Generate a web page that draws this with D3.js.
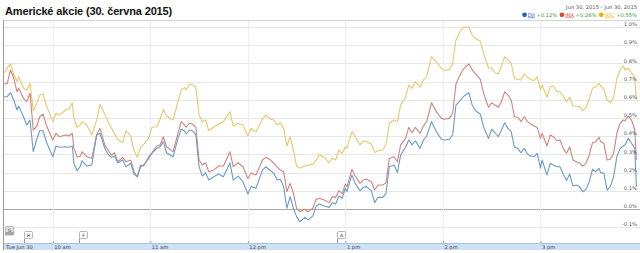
<!DOCTYPE html>
<html>
<head>
<meta charset="utf-8">
<script src="https://cdn.jsdelivr.net/npm/d3@7"></script>
<style>
body { margin: 0; background: #fff; }
svg { display: block; }
.small { font-family: "DejaVu Sans", sans-serif; font-size: 5.2px; fill: #555; }
.title { font-family: "Liberation Sans", Arial, sans-serif; font-weight: bold; font-size: 11px; fill: #111; }
</style>
</head>
<body>
<div id="chart"></div>
<script>
const width = 640
const height = 253

// texty
const title = "Americké akcie (30. června 2015)"
const dateRange = "Jun 30, 2015 - Jun 30, 2015"
const symbols = ["DJI", "INX", "IXIC"]
const changes = ["+0.12%", "+0.26%", "+0.55%"]
const dayLabel = "Tue Jun 30"
const hourTicks = [10, 11, 12, 13, 14, 15]
const hourLabels = ["10 am", "11 am", "12 pm", "1 pm", "2 pm", "3 pm"]
const yTicks = [-0.1, 0, 0.1, 0.2, 0.3, 0.4, 0.5, 0.6, 0.7, 0.8, 0.9, 1.0]
const flagLetters = ["G", "H", "F", "A"]
const flagMinutes = [0, 12, 46, 205]

// minuty od 9:30
const minutes = [
    0, 2, 4, 6, 8, 9, 12, 14, 16, 18, 20, 22, 24, 26, 30, 32, 34, 38, 40, 42,
    43, 45, 47, 48, 51, 54, 57, 59, 62, 64, 66, 68, 70, 73, 75, 78, 80, 82, 84, 86,
    89, 91, 94, 96,
    98, 100, 104, 107, 109, 111, 112, 114, 116, 118, 120, 122, 124, 126, 129, 132, 135, 139, 141, 144,
    147, 150, 152, 155, 159, 161, 164, 166, 168, 170, 172, 174, 176, 178, 180, 182, 185, 187, 190, 192,
    194,
    197, 200, 202, 204, 206, 208, 210, 211, 214, 216, 219, 221, 223, 226, 228, 230, 233, 235, 237, 240,
    242, 244, 247, 249, 251, 253, 256, 258, 260, 263, 266, 269, 271, 274, 276, 278, 281, 283, 286, 288,
    290, 293,
    295, 298, 300, 302, 304, 306, 308, 310, 312, 314, 316, 318, 320, 322, 324, 326, 328, 330, 331, 334,
    336, 338, 340, 342, 344, 346, 348, 350, 352, 354, 356, 358, 360, 362, 364, 366, 367, 369, 371, 373,
    375, 377, 379, 381, 382, 384, 386, 388, 389
]

const dji = [
    0.617, 0.617, 0.639, 0.599, 0.544, 0.566, 0.507, 0.462, 0.489, 0.315, 0.379, 0.43, 0.43, 0.37, 0.287, 0.346, 0.339, 0.342, 0.339, 0.346,
    0.251, 0.21, 0.236, 0.265, 0.236, 0.242, 0.407, 0.416, 0.333, 0.302, 0.284, 0.291, 0.254, 0.269, 0.232, 0.251, 0.192, 0.177, 0.232, 0.242,
    0.278, 0.306, 0.333, 0.342,
    0.37, 0.309, 0.287, 0.388, 0.438, 0.43, 0.412, 0.434, 0.43, 0.407, 0.232, 0.181, 0.2, 0.159, 0.177, 0.192, 0.177, 0.254, 0.159, 0.181,
    0.15, 0.082, 0.123, 0.114, 0.214, 0.232, 0.21, 0.196, 0.159, 0.163, 0.123, 0.004, 0.068, 0.004, -0.042, -0.07, -0.046, -0.06, -0.038, 0.016,
    0.027,
    0.016, 0.009, 0.035, 0.027, 0.071, 0.059, 0.114, 0.095, 0.187, 0.141, 0.1, 0.119, 0.123, 0.1, 0.035, 0.064, 0.064, 0.086, 0.232, 0.242,
    0.2, 0.297, 0.339, 0.379, 0.352, 0.375, 0.333, 0.379, 0.401, 0.48, 0.425, 0.383, 0.379, 0.383, 0.407, 0.571, 0.599, 0.621, 0.639, 0.571,
    0.54, 0.522,
    0.452, 0.388, 0.438, 0.419, 0.397, 0.434, 0.474, 0.443, 0.425, 0.339, 0.333, 0.309, 0.333, 0.302, 0.291, 0.287, 0.306, 0.224, 0.269, 0.187,
    0.251, 0.242, 0.232, 0.232, 0.192, 0.156, 0.192, 0.126, 0.132, 0.123, 0.095, 0.108, 0.15, 0.218, 0.205, 0.224, 0.2, 0.196, 0.104, 0.123,
    0.177, 0.287, 0.333, 0.346, 0.352, 0.388, 0.361, 0.333, 0.123
]

const inx = [
    0.687, 0.69, 0.764, 0.718, 0.644, 0.663, 0.608, 0.59, 0.636, 0.434, 0.452, 0.507, 0.522, 0.462, 0.379, 0.416, 0.397, 0.407, 0.401, 0.416,
    0.333, 0.284, 0.291, 0.315, 0.287, 0.278, 0.407, 0.443, 0.352, 0.324, 0.297, 0.309, 0.26, 0.284, 0.26, 0.269, 0.205, 0.177, 0.242, 0.236,
    0.287, 0.309, 0.346, 0.352,
    0.397, 0.342, 0.315, 0.416, 0.48, 0.462, 0.449, 0.471, 0.467, 0.449, 0.269, 0.242, 0.254, 0.205, 0.214, 0.236, 0.236, 0.315, 0.232, 0.254,
    0.232, 0.168, 0.196, 0.187, 0.269, 0.284, 0.269, 0.251, 0.232, 0.214, 0.205, 0.095, 0.141, 0.086, 0.004, -0.015, -0.002, -0.015, 0.004, 0.053,
    0.059,
    0.049, 0.035, 0.068, 0.064, 0.1, 0.086, 0.137, 0.123, 0.218, 0.181, 0.141, 0.159, 0.163, 0.15, 0.104, 0.132, 0.132, 0.145, 0.278, 0.287,
    0.26, 0.352, 0.388, 0.449, 0.419, 0.449, 0.416, 0.456, 0.48, 0.584, 0.535, 0.498, 0.493, 0.498, 0.526, 0.687, 0.746, 0.773, 0.797, 0.764,
    0.742, 0.712,
    0.636, 0.559, 0.584, 0.571, 0.559, 0.59, 0.644, 0.626, 0.599, 0.507, 0.504, 0.48, 0.507, 0.48, 0.467, 0.456, 0.449, 0.388, 0.416, 0.346,
    0.407, 0.397, 0.375, 0.379, 0.333, 0.306, 0.342, 0.269, 0.26, 0.254, 0.236, 0.251, 0.297, 0.364, 0.37, 0.394, 0.37, 0.361, 0.269, 0.273,
    0.306, 0.416, 0.471, 0.489, 0.485, 0.511, 0.489, 0.434, 0.27
]

const ixic = [
    0.746, 0.775, 0.797, 0.74, 0.70, 0.727, 0.663, 0.654, 0.69, 0.54, 0.575, 0.626, 0.632, 0.571, 0.48, 0.526, 0.516, 0.544, 0.553, 0.584,
    0.498, 0.449, 0.462, 0.48, 0.46, 0.407, 0.489, 0.575, 0.52, 0.48, 0.445, 0.415, 0.38, 0.365, 0.43, 0.40, 0.32, 0.284, 0.34, 0.357,
    0.388, 0.449, 0.452, 0.493,
    0.548, 0.511, 0.489, 0.59, 0.654, 0.667, 0.654, 0.685, 0.681, 0.672, 0.516, 0.48, 0.489, 0.43, 0.449, 0.467, 0.48, 0.535, 0.456, 0.471,
    0.462, 0.401, 0.443, 0.425, 0.493, 0.516, 0.493, 0.489, 0.462, 0.474, 0.443, 0.346, 0.397, 0.324, 0.236, 0.224, 0.236, 0.24, 0.245, 0.27,
    0.297,
    0.284, 0.254, 0.28, 0.269, 0.324, 0.306, 0.342, 0.333, 0.425, 0.397, 0.352, 0.375, 0.37, 0.357, 0.31, 0.32, 0.324, 0.352, 0.471, 0.489,
    0.48, 0.571, 0.614, 0.681, 0.663, 0.7, 0.669, 0.709, 0.727, 0.837, 0.809, 0.773, 0.76, 0.767, 0.8, 0.929, 0.984, 1.0, 1.0, 0.956,
    0.937, 0.922,
    0.855, 0.776, 0.774, 0.75, 0.74, 0.785, 0.837, 0.822, 0.8, 0.718, 0.712, 0.709, 0.742, 0.724, 0.712, 0.705, 0.727, 0.654, 0.681, 0.614,
    0.672, 0.676, 0.644, 0.644, 0.621, 0.59, 0.614, 0.566, 0.566, 0.562, 0.54, 0.559, 0.603, 0.663, 0.672, 0.69, 0.676, 0.658, 0.599, 0.584,
    0.614, 0.718, 0.764, 0.786, 0.764, 0.773, 0.749, 0.724, 0.6
]

const lineColors = ["#6b9bc9", "#cf857d", "#e8c86c"]
const dotColors = ["#1a63c2", "#d8482c", "#f2b10a"]

const open = new Date(2015, 5, 30, 9, 30)
const close = new Date(2015, 5, 30, 16, 0)

const svg = d3.select("div#chart")
    .append("svg")
    .attr("width", width)
    .attr("height", height)

const x = d3.scaleTime().domain([open, close]).range([4, 638])
const y = d3.scaleLinear().domain([0, 1]).range([209, 27])

const axisTop = 243

// titulek
svg.append("text").attr("class", "title")
    .attr("x", 5).attr("y", 15)
    .style("letter-spacing", "-0.15px")
    .text(title)

// ramecek
svg.append("line").attr("x1", 4).attr("x2", width).attr("y1", 20.5).attr("y2", 20.5)
    .attr("stroke", "#d4d4d4")
svg.append("line").attr("x1", 3.5).attr("x2", 3.5).attr("y1", 20).attr("y2", 250)
    .attr("stroke", "#9a9a9a")

// mrizka
const gridGroup = svg.append("g")
gridGroup.selectAll("line.h").data(yTicks)
    .join("line")
    .attr("class", "h")
    .attr("x1", 4).attr("x2", width)
    .attr("y1", d => Math.round(y(d)) + 0.5)
    .attr("y2", d => Math.round(y(d)) + 0.5)
    .attr("stroke", d => d === 0 ? "#a8a8a8" : "#e6e6e6")

const hourDates = hourTicks.map(h => new Date(2015, 5, 30, h, 0))
gridGroup.selectAll("line.v").data(hourDates)
    .join("line")
    .attr("class", "v")
    .attr("x1", d => Math.round(x(d)) + 0.5)
    .attr("x2", d => Math.round(x(d)) + 0.5)
    .attr("y1", 21).attr("y2", axisTop)
    .attr("stroke", "#eeeeee")

// linie
const dates = minutes.map(m => d3.timeMinute.offset(open, m))
const series = [ixic, inx, dji]
const seriesColors = [lineColors[2], lineColors[1], lineColors[0]]
const line = d3.line()
    .x((d, i) => x(dates[i]))
    .y(d => y(d))

svg.append("g").selectAll("path").data(series)
    .join("path")
    .attr("d", d => line(d))
    .attr("fill", "none")
    .attr("stroke", (d, i) => seriesColors[i])
    .attr("stroke-width", 1.1)
    .attr("stroke-linejoin", "round")

// popisky osy y
const yAxis = d3.axisLeft(y)
    .tickValues(yTicks)
    .tickSize(0)
    .tickPadding(0)
    .tickFormat(d => d.toFixed(1) + "%")
const yAxisGroup = svg.append("g")
    .attr("transform", `translate(637,0)`)
    .call(yAxis)
yAxisGroup.select(".domain").remove()
yAxisGroup.selectAll("text")
    .attr("class", "small")
    .attr("font-family", null).attr("font-size", null)
    .attr("dy", -1.3)

// pasek osy x
svg.append("rect")
    .attr("x", 4).attr("y", axisTop)
    .attr("width", width - 4).attr("height", 7)
    .attr("fill", "#cde0f4")
svg.append("line").attr("x1", 4).attr("x2", width).attr("y1", axisTop + 0.5).attr("y2", axisTop + 0.5)
    .attr("stroke", "#a9c3df")

const xAxis = d3.axisBottom(x)
    .tickValues(hourDates)
    .tickSizeInner(-2)
    .tickSizeOuter(0)
    .tickPadding(2)
    .tickFormat((d, i) => hourLabels[i])
const xAxisGroup = svg.append("g")
    .attr("transform", `translate(0,${axisTop})`)
    .call(xAxis)
xAxisGroup.select(".domain").remove()
xAxisGroup.selectAll("line").attr("stroke", "#8aa4c0")
xAxisGroup.selectAll("text")
    .attr("class", "small")
    .attr("font-family", null).attr("font-size", null)
    .attr("text-anchor", "start")
    .attr("dx", 1)
    .style("fill", "#444")

svg.append("text").attr("class", "small")
    .attr("x", 6).attr("y", 248.6)
    .style("fill", "#444")
    .text(dayLabel)

// vlajky
const flags = svg.append("g").selectAll("g").data(flagLetters)
    .join("g")
    .attr("transform", (d, i) => {
        const fx = Math.round(x(d3.timeMinute.offset(open, flagMinutes[i]))) + 0.5
        return i === 0 ? `translate(${fx + 1},226.5)` : `translate(${fx},231.5)`
    })
flags.append("line")
    .attr("x1", 0).attr("x2", 0)
    .attr("y1", 7).attr("y2", (d, i) => i === 0 ? 9 : axisTop - 231.5)
    .attr("stroke", "#999")
flags.append("rect")
    .attr("width", 8).attr("height", (d, i) => i === 0 ? 8.5 : 7)
    .attr("rx", 1)
    .attr("fill", (d, i) => i === 0 ? "#e4e4e4" : "#fff")
    .attr("stroke", "#9a9a9a")
    .attr("stroke-width", 0.7)
flags.filter((d, i) => i === 0).append("rect")
    .attr("y", 5.5).attr("width", 8).attr("height", 3)
    .attr("fill", "#a6a6a6")
flags.append("text")
    .attr("class", "small")
    .attr("x", 4).attr("y", 5.2)
    .attr("text-anchor", "middle")
    .style("font-size", "4.6px")
    .style("fill", "#333")
    .text(d => d)

// legenda
svg.append("text").attr("class", "small")
    .attr("x", 637).attr("y", 8.5)
    .attr("text-anchor", "end")
    .text(dateRange)

const legend = svg.append("g")
let lx = 0
symbols.forEach((s, i) => {
    legend.append("circle")
        .attr("cx", lx + 2.3).attr("cy", 14.8).attr("r", 2.4)
        .attr("fill", dotColors[i])
    lx += 5.5
    const name = legend.append("text").attr("class", "small")
        .attr("x", lx).attr("y", 16.6)
        .style("fill", dotColors[i])
        .style("text-decoration", "underline")
        .text(s)
    lx += name.node().getComputedTextLength() + 1.5
    const ch = legend.append("text").attr("class", "small")
        .attr("x", lx).attr("y", 16.6)
        .style("fill", "#3a9a3a")
        .text(changes[i])
    lx += ch.node().getComputedTextLength() + 2.5
})
legend.attr("transform", `translate(${637 - (lx - 2.5)},0)`)
</script>
</body>
</html>
